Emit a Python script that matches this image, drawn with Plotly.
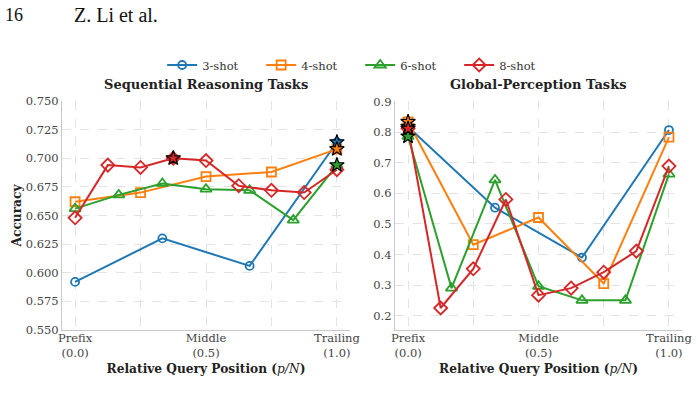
import numpy as np
import plotly.graph_objects as go

# ---------------- data ----------------
series_names = ["3-shot", "4-shot", "6-shot", "8-shot"]
shots = [3, 4, 6, 8]
colors = ["#1f77b4", "#ff7f0e", "#2ca02c", "#d62728"]
symbols = ["circle-open", "square-open", "triangle-up-open", "diamond-open"]
marker_sizes = [8, 9, 10, 10]

seq_3shot = [0.592, 0.630, 0.606, 0.714]
seq_4shot = [0.662, 0.670, 0.684, 0.688, 0.708]
seq_6shot = [0.656, 0.668, 0.678, 0.673, 0.672, 0.646, 0.694]
seq_8shot = [0.648, 0.694, 0.692, 0.700, 0.698, 0.676, 0.672, 0.670, 0.690]

glob_3shot = [0.818, 0.553, 0.390, 0.807]
glob_4shot = [0.834, 0.432, 0.521, 0.305, 0.784]
glob_6shot = [0.786, 0.290, 0.644, 0.296, 0.250, 0.250, 0.663]
glob_8shot = [0.812, 0.225, 0.353, 0.580, 0.267, 0.290, 0.342, 0.411, 0.689]

seq_data = [seq_3shot, seq_4shot, seq_6shot, seq_8shot]
glob_data = [glob_3shot, glob_4shot, glob_6shot, glob_8shot]

x_tickvals = [0, 0.25, 0.5, 0.75, 1.0]
x_ticktext = ["Prefix<br>(0.0)", "", "Middle<br>(0.5)", "", "Trailing<br>(1.0)"]
seq_yticks = [0.55, 0.575, 0.6, 0.625, 0.65, 0.675, 0.7, 0.725, 0.75]
glob_yticks = [0.2, 0.3, 0.4, 0.5, 0.6, 0.7, 0.8, 0.9]

panel_titles = ["Sequential Reasoning Tasks", "Global-Perception Tasks"]
x_title = 'Relative Query Position (<span style="font-weight:normal"><i>p/N</i></span>)'

# ---------------- figure ----------------
W, H = 698, 413
FONT = "DejaVu Serif"
fig = go.Figure()

for panel, data in enumerate([seq_data, glob_data]):
    xa = "x" if panel == 0 else "x2"
    ya = "y" if panel == 0 else "y2"
    for i, vals in enumerate(data):
        n = shots[i]
        xs = np.arange(n + 1) / n
        fig.add_trace(go.Scatter(
            x=xs, y=vals, mode="lines+markers", name=series_names[i],
            line=dict(color=colors[i], width=2),
            marker=dict(symbol=symbols[i], size=marker_sizes[i], color=colors[i],
                        line=dict(color=colors[i], width=1.8)),
            xaxis=xa, yaxis=ya, showlegend=(panel == 0), legendgroup=series_names[i],
        ))
    for i, vals in enumerate(data):
        n = shots[i]
        xs = np.arange(n + 1) / n
        k = int(np.argmax(vals))
        fig.add_trace(go.Scatter(
            x=[xs[k]], y=[vals[k]], mode="markers",
            marker=dict(symbol="star", size=11, color=colors[i],
                        line=dict(color="black", width=1.2)),
            xaxis=xa, yaxis=ya, showlegend=False, hoverinfo="skip",
        ))

def px_x(p):
    return p / W

def px_y(p):
    return 1 - p / H

ydom = [px_y(330), px_y(101)]
axis_common = dict(
    showline=True, linecolor="#c8c8c8", linewidth=1.2, mirror=False,
    showgrid=True, gridcolor="#e3e3e3", griddash="dash", gridwidth=0.8,
    zeroline=False, ticks="", automargin=False,
    tickfont=dict(family=FONT, size=11.5, color="#444"),
)
title_font = dict(family=FONT, size=13, color="#222", weight="bold")
xtitle_font = dict(family=FONT, size=12.2, color="#222", weight="bold")

fig.update_layout(
    width=W, height=H, margin=dict(l=0, r=0, t=0, b=0, autoexpand=False),
    paper_bgcolor="white", plot_bgcolor="white",
    font=dict(family=FONT, color="#333"),
    xaxis=dict(domain=[px_x(62), px_x(350)], range=[-0.05, 1.05],
               tickvals=x_tickvals, ticktext=x_ticktext, anchor="y", **axis_common,
               ticklabelstandoff=-3,
               title=dict(text=x_title, font=xtitle_font, standoff=5)),
    yaxis=dict(domain=ydom, range=[0.55, 0.75], tickvals=seq_yticks, tickformat=".3f",
               anchor="x", **axis_common,
               title=dict(text="Accuracy", font=xtitle_font, standoff=1)),
    xaxis2=dict(domain=[px_x(395), px_x(682)], range=[-0.05, 1.05],
                tickvals=x_tickvals, ticktext=x_ticktext, anchor="y2", **axis_common,
                ticklabelstandoff=-3,
                title=dict(text=x_title, font=xtitle_font, standoff=5)),
    yaxis2=dict(domain=ydom, range=[0.153, 0.902], tickvals=glob_yticks, tickformat=".1f",
                anchor="x2", **axis_common),
    legend=dict(orientation="h", x=0.516, xanchor="center", y=px_y(65), yanchor="middle",
                font=dict(family=FONT, size=11.5, color="#333"), bgcolor="rgba(0,0,0,0)",
                traceorder="normal", entrywidth=54, entrywidthmode="pixels"),
)

annotations = [
    dict(text=panel_titles[0], x=px_x(206), y=px_y(84), xref="paper", yref="paper",
         xanchor="center", yanchor="middle",
         showarrow=False, font=title_font),
    dict(text=panel_titles[1], x=px_x(538), y=px_y(84), xref="paper", yref="paper",
         xanchor="center", yanchor="middle",
         showarrow=False, font=title_font),
    dict(text="16", x=px_x(3), y=px_y(15), xref="paper", yref="paper", xanchor="left",
         yanchor="middle", showarrow=False,
         font=dict(family="Liberation Serif", size=18, color="#111")),
    dict(text="Z. Li et al.", x=px_x(72), y=px_y(15), xref="paper", yref="paper", xanchor="left",
         yanchor="middle", showarrow=False,
         font=dict(family="Liberation Serif", size=20, color="#111")),
]
fig.update_layout(annotations=annotations)

fig.write_html("out.html")
